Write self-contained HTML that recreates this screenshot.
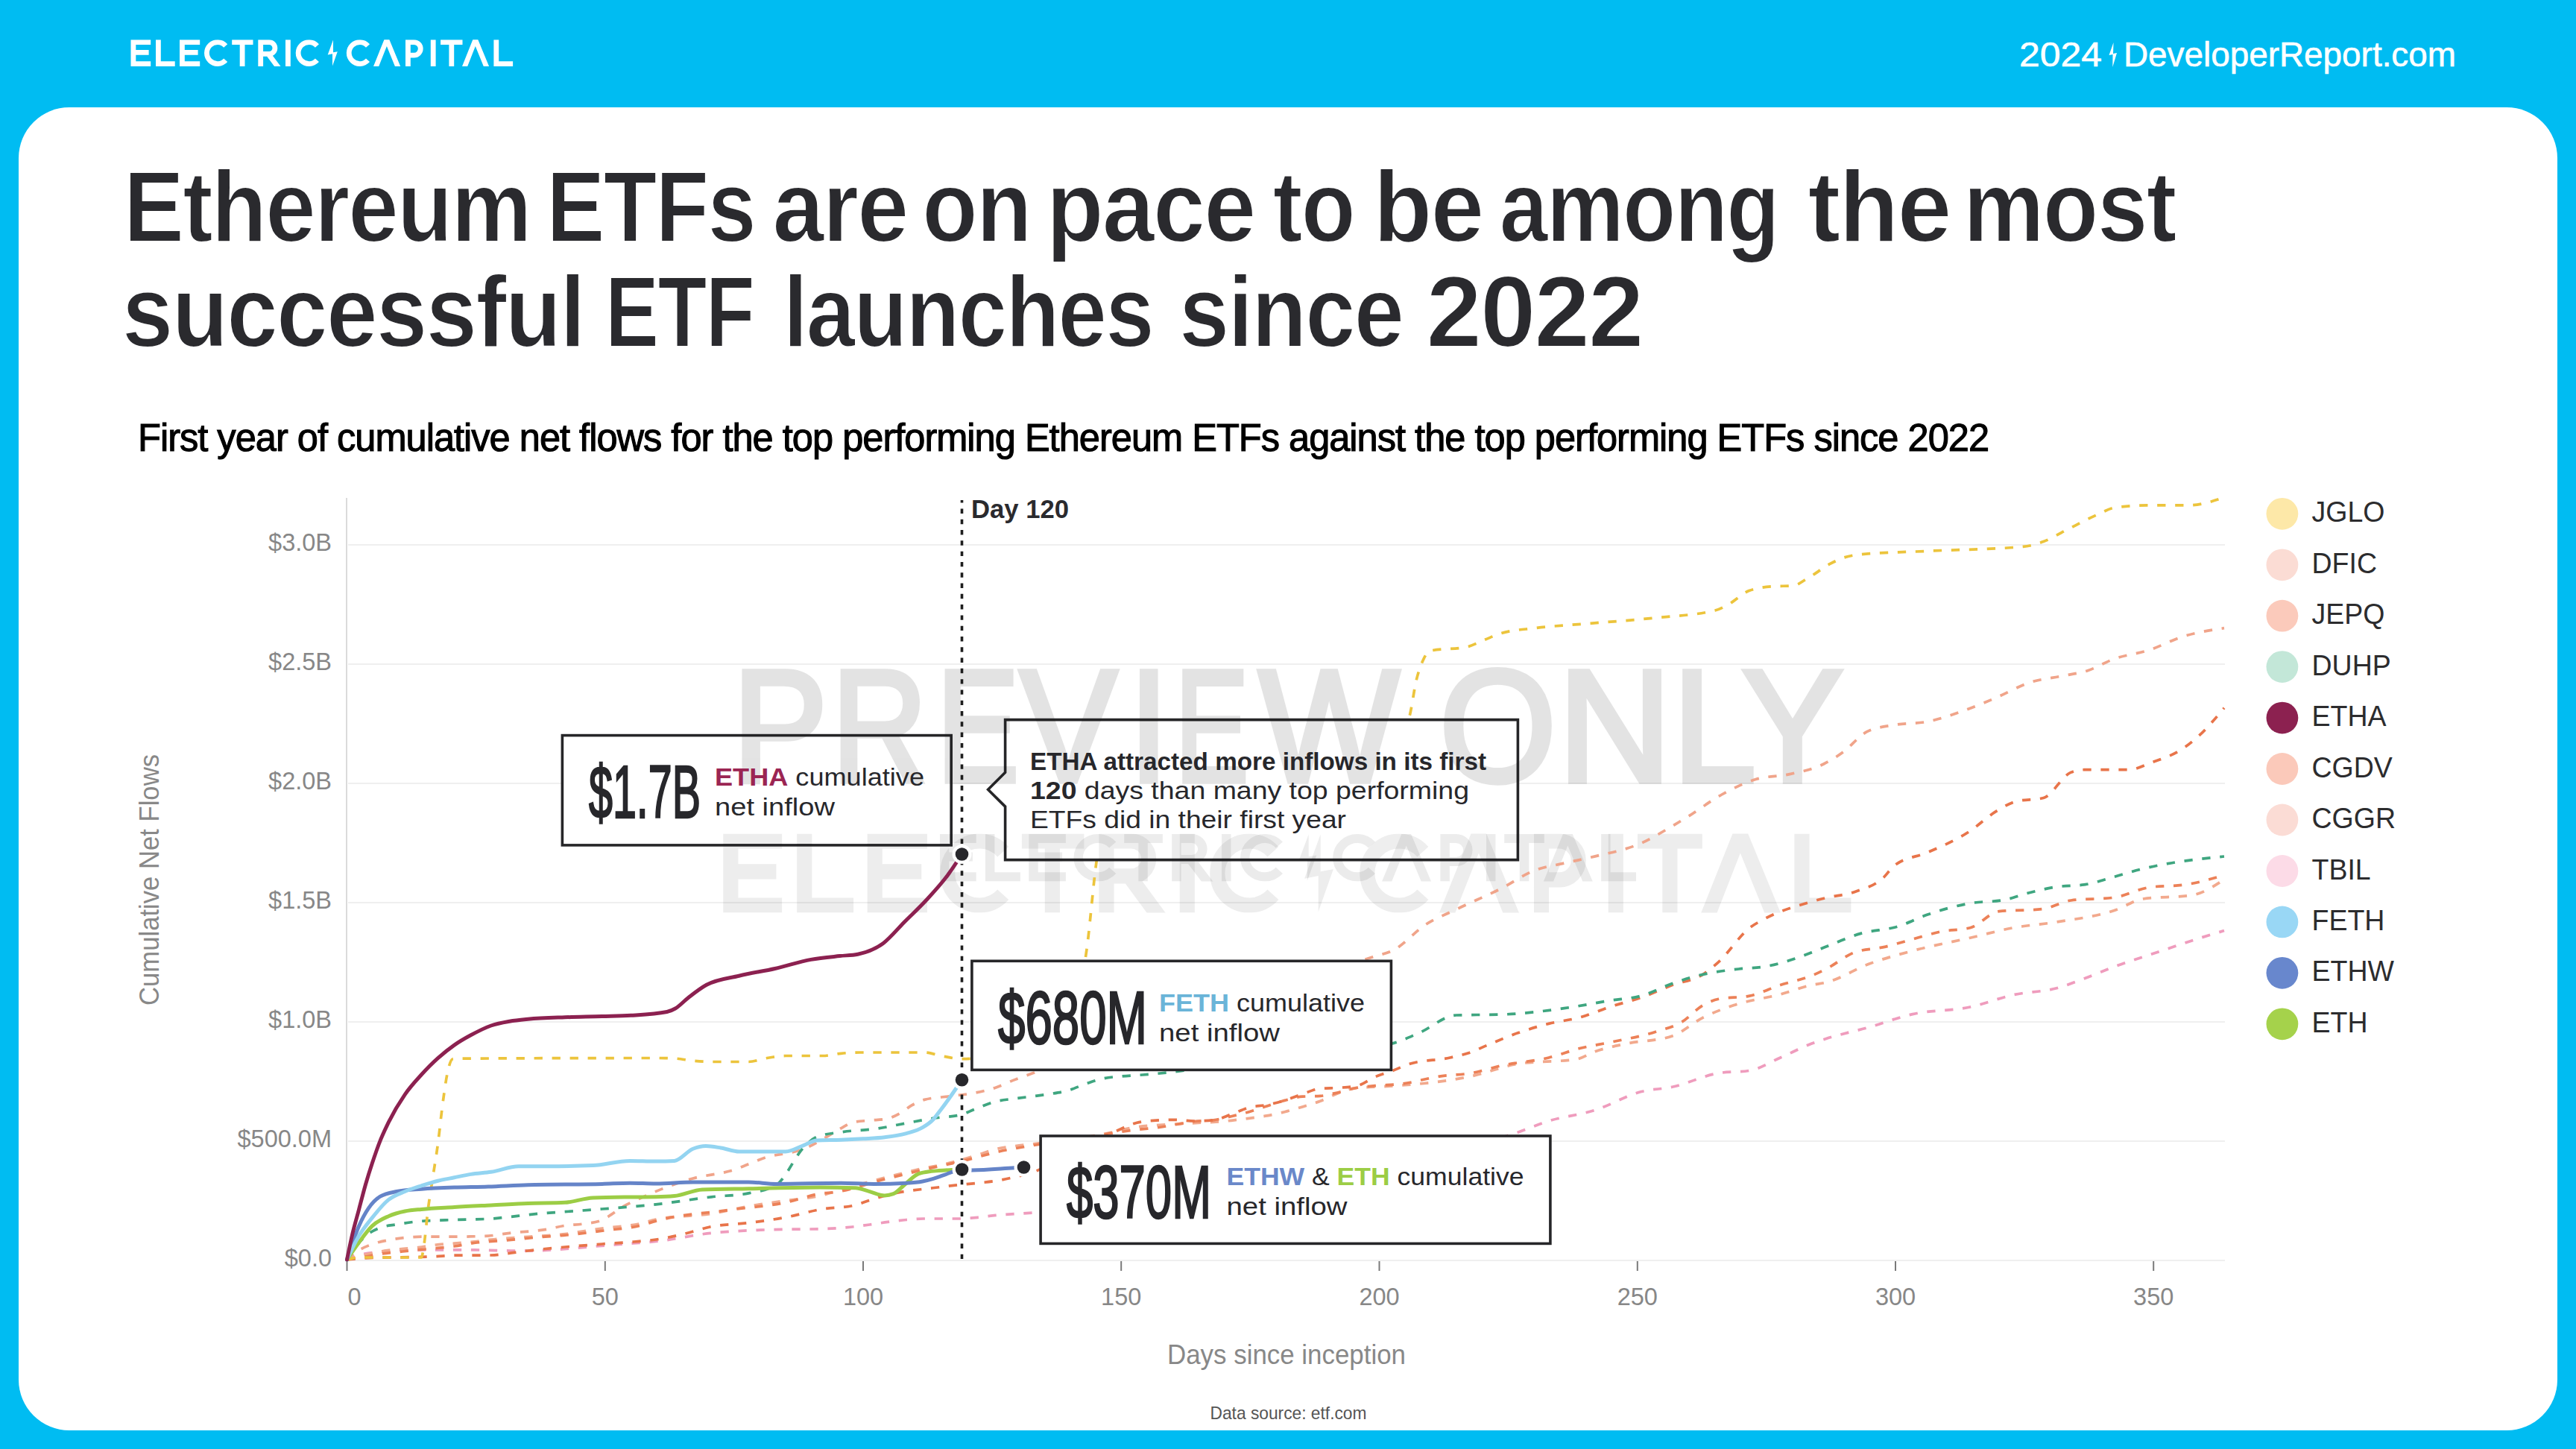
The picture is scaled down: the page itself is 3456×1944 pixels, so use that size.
<!DOCTYPE html><html><head><meta charset="utf-8"><style>
html,body{margin:0;padding:0;background:#00bcf2;}
body{width:3456px;height:1944px;overflow:hidden;position:relative;font-family:"Liberation Sans",sans-serif;}
svg{position:absolute;left:0;top:0;}
text{font-family:"Liberation Sans",sans-serif;}
</style></head><body>
<svg width="3456" height="1944" viewBox="0 0 3456 1944">
<defs><clipPath id="lclip"><rect x="170" y="53.2" width="525" height="35.8"/></clipPath></defs>
<rect x="25" y="144" width="3406" height="1775" rx="68" ry="68" fill="#ffffff"/>
<g fill="#ffffff" stroke="#ffffff"><g fill="none" stroke-width="6.8" stroke-linecap="butt" stroke-linejoin="miter" clip-path="url(#lclip)"><path d="M202.2,56.6 H178.9 V85.6 H202.2 M178.9,70.4 H199.6"/><path d="M212.4,53.2 V85.6 H234.7"/><path d="M268.2,56.6 H244.4 V85.6 H268.2 M244.4,70.4 H265.6"/><path d="M302.7,61.4 A14.5,14.5 0 1 0 302.7,80.8"/><path d="M311.2,56.6 H339.5 M325.1,56.6 V89"/><path d="M349.7,89 V56.6 H361 A7.9,7.9 0 0 1 361,72.4 H349.7 M360,72.4 L374.5,92"/><path d="M386.4,53.2 V89"/><path d="M425.4,61.4 A14.5,14.5 0 1 0 425.4,80.8"/><path d="M493.5,61.4 A14.5,14.5 0 1 0 493.5,80.8"/><path d="M547.4,89 V56.6 H555.5 A8.75,8.75 0 0 1 555.5,74.1 H547.4"/><path d="M581.2,53.2 V89"/><path d="M591.1,56.6 H620.5 M605.8,56.6 V89"/><path d="M665.8,53.2 V85.6 H688.1"/></g><path stroke="none" d="M447,53.5 L439.7,73.5 L446,72.3 L446,88.5 L452.8,69.3 L447,70.3 Z"/><path stroke="none" d="M501,89 L515.4,53.2 L522.4,53.2 L537.2,89 L529.9,89 L518.9,62 L508.2,89 Z"/><path stroke="none" d="M620,89 L634.3,53.2 L641.3,53.2 L656.1,89 L648.8,89 L637.8,62 L627.2,89 Z"/></g>
<text x="2709" y="89.3" font-size="45.5" fill="#ffffff" stroke="#ffffff" stroke-width="0.6" textLength="111" lengthAdjust="spacingAndGlyphs">2024</text>
<path fill="#ffffff" d="M2835.5,57 L2829.5,74 L2834.5,73 L2834.3,90 L2840,71 L2835,72 Z"/>
<text x="2849" y="89.3" font-size="45.5" fill="#ffffff" stroke="#ffffff" stroke-width="0.6" textLength="446" lengthAdjust="spacingAndGlyphs">DeveloperReport.com</text>
<text transform="translate(166,323.5) scale(0.8926,1)" font-size="136" font-weight="bold" fill="#2a2a2e" stroke="#fff" stroke-width="2.0" letter-spacing="-2" style="font-kerning:none">Ethereum</text>
<text transform="translate(733.3,323.5) scale(0.8618,1)" font-size="136" font-weight="bold" fill="#2a2a2e" stroke="#fff" stroke-width="2.0" letter-spacing="-2" style="font-kerning:none">ETFs</text>
<text transform="translate(1036.5,323.5) scale(0.9126,1)" font-size="136" font-weight="bold" fill="#2a2a2e" stroke="#fff" stroke-width="2.0" letter-spacing="-2" style="font-kerning:none">are</text>
<text transform="translate(1237.3,323.5) scale(0.8962,1)" font-size="136" font-weight="bold" fill="#2a2a2e" stroke="#fff" stroke-width="2.0" letter-spacing="-2" style="font-kerning:none">on</text>
<text transform="translate(1403.8,323.5) scale(0.9259,1)" font-size="136" font-weight="bold" fill="#2a2a2e" stroke="#fff" stroke-width="2.0" letter-spacing="-2" style="font-kerning:none">pace</text>
<text transform="translate(1707.7,323.5) scale(0.8774,1)" font-size="136" font-weight="bold" fill="#2a2a2e" stroke="#fff" stroke-width="2.0" letter-spacing="-2" style="font-kerning:none">to</text>
<text transform="translate(1842.5,323.5) scale(0.9497,1)" font-size="136" font-weight="bold" fill="#2a2a2e" stroke="#fff" stroke-width="2.0" letter-spacing="-2" style="font-kerning:none">be</text>
<text transform="translate(2011.7,323.5) scale(0.8588,1)" font-size="136" font-weight="bold" fill="#2a2a2e" stroke="#fff" stroke-width="2.0" letter-spacing="-2" style="font-kerning:none">among</text>
<text transform="translate(2425.4,323.5) scale(0.9651,1)" font-size="136" font-weight="bold" fill="#2a2a2e" stroke="#fff" stroke-width="2.0" letter-spacing="-2" style="font-kerning:none">the</text>
<text transform="translate(2634.1,323.5) scale(0.8978,1)" font-size="136" font-weight="bold" fill="#2a2a2e" stroke="#fff" stroke-width="2.0" letter-spacing="-2" style="font-kerning:none">most</text>
<text transform="translate(163.8,465) scale(0.9078,1)" font-size="136" font-weight="bold" fill="#2a2a2e" stroke="#fff" stroke-width="2.0" letter-spacing="-2" style="font-kerning:none">successful</text>
<text transform="translate(812,465) scale(0.7940,1)" font-size="136" font-weight="bold" fill="#2a2a2e" stroke="#fff" stroke-width="2.0" letter-spacing="-2" style="font-kerning:none">ETF</text>
<text transform="translate(1050.9,465) scale(0.8648,1)" font-size="136" font-weight="bold" fill="#2a2a2e" stroke="#fff" stroke-width="2.0" letter-spacing="-2" style="font-kerning:none">launches</text>
<text transform="translate(1581.9,465) scale(0.8893,1)" font-size="136" font-weight="bold" fill="#2a2a2e" stroke="#fff" stroke-width="2.0" letter-spacing="-2" style="font-kerning:none">since</text>
<text transform="translate(1913.4,465) scale(0.9846,1)" font-size="136" font-weight="bold" fill="#2a2a2e" stroke="#fff" stroke-width="2.0" letter-spacing="-2" style="font-kerning:none">2022</text>
<text x="185" y="605" font-size="51" fill="#000" stroke="#000" stroke-width="1.1" letter-spacing="-1" textLength="2483" lengthAdjust="spacingAndGlyphs">First year of cumulative net flows for the top performing Ethereum ETFs against the top performing ETFs since 2022</text>
<g stroke="#efefef" stroke-width="1.8"><line x1="467" y1="1691" x2="2985" y2="1691"/><line x1="467" y1="1531" x2="2985" y2="1531"/><line x1="467" y1="1371" x2="2985" y2="1371"/><line x1="467" y1="1211" x2="2985" y2="1211"/><line x1="467" y1="1051" x2="2985" y2="1051"/><line x1="467" y1="891" x2="2985" y2="891"/><line x1="467" y1="731" x2="2985" y2="731"/></g>
<line x1="465" y1="668" x2="465" y2="1692" stroke="#d2d2d2" stroke-width="1.6"/>
<g stroke="#7a7a7a" stroke-width="2"><line x1="465.5" y1="1692" x2="465.5" y2="1705"/><line x1="811.8" y1="1692" x2="811.8" y2="1705"/><line x1="1158" y1="1692" x2="1158" y2="1705"/><line x1="1504.2" y1="1692" x2="1504.2" y2="1705"/><line x1="1850.5" y1="1692" x2="1850.5" y2="1705"/><line x1="2196.8" y1="1692" x2="2196.8" y2="1705"/><line x1="2543" y1="1692" x2="2543" y2="1705"/><line x1="2889.2" y1="1692" x2="2889.2" y2="1705"/></g>
<g font-size="32.5" fill="#878787"><text x="445" y="1698.5" text-anchor="end">$0.0</text><text x="445" y="1538.5" text-anchor="end">$500.0M</text><text x="445" y="1378.5" text-anchor="end">$1.0B</text><text x="445" y="1218.5" text-anchor="end">$1.5B</text><text x="445" y="1058.5" text-anchor="end">$2.0B</text><text x="445" y="898.5" text-anchor="end">$2.5B</text><text x="445" y="738.5" text-anchor="end">$3.0B</text></g>
<g font-size="32.5" fill="#878787"><text x="475.5" y="1751" text-anchor="middle">0</text><text x="811.8" y="1751" text-anchor="middle">50</text><text x="1158" y="1751" text-anchor="middle">100</text><text x="1504.2" y="1751" text-anchor="middle">150</text><text x="1850.5" y="1751" text-anchor="middle">200</text><text x="2196.8" y="1751" text-anchor="middle">250</text><text x="2543" y="1751" text-anchor="middle">300</text><text x="2889.2" y="1751" text-anchor="middle">350</text></g>
<text x="1566" y="1830" font-size="36" fill="#888888" textLength="320" lengthAdjust="spacingAndGlyphs">Days since inception</text>
<text transform="translate(213,1349) rotate(-90)" font-size="36" fill="#888888" textLength="337" lengthAdjust="spacingAndGlyphs">Cumulative Net Flows</text>
<text x="1623.5" y="1904" font-size="24" fill="#555555" textLength="210" lengthAdjust="spacingAndGlyphs">Data source: etf.com</text>
<g><g opacity="0.105"><g fill="#000" stroke="#000" stroke-width="7.5" stroke-linejoin="miter"><text transform="translate(983.2,1047.8) scale(0.8921,1)" font-size="212.9">P</text><text transform="translate(1116.2,1047.8) scale(0.8305,1)" font-size="212.9">R</text><text transform="translate(1256.9,1047.8) scale(0.7755,1)" font-size="212.9">E</text><text transform="translate(1368.6,1047.8) scale(0.9154,1)" font-size="212.9">V</text><text transform="translate(1514.8,1047.8) scale(0.8963,1)" font-size="212.9">I</text><text transform="translate(1576.7,1047.8) scale(0.6923,1)" font-size="212.9">E</text><text transform="translate(1688.9,1047.8) scale(0.9357,1)" font-size="212.9">W</text><text transform="translate(1931.2,1047.8) scale(0.9460,1)" font-size="212.9">O</text><text transform="translate(2090.5,1047.8) scale(0.9878,1)" font-size="212.9">N</text><text transform="translate(2244.3,1047.8) scale(0.9426,1)" font-size="212.9">L</text><text transform="translate(2337.3,1047.8) scale(0.9535,1)" font-size="212.9">Y</text></g></g><g opacity="0.065"><g transform="translate(452.3,960.6) scale(2.9516,2.9665)" fill="#000" stroke="#000"><g fill="none" stroke-width="6.8" stroke-linecap="butt" stroke-linejoin="miter" clip-path="url(#lclip)"><path d="M202.2,56.6 H178.9 V85.6 H202.2 M178.9,70.4 H199.6"/><path d="M212.4,53.2 V85.6 H234.7"/><path d="M268.2,56.6 H244.4 V85.6 H268.2 M244.4,70.4 H265.6"/><path d="M302.7,61.4 A14.5,14.5 0 1 0 302.7,80.8"/><path d="M311.2,56.6 H339.5 M325.1,56.6 V89"/><path d="M349.7,89 V56.6 H361 A7.9,7.9 0 0 1 361,72.4 H349.7 M360,72.4 L374.5,92"/><path d="M386.4,53.2 V89"/><path d="M425.4,61.4 A14.5,14.5 0 1 0 425.4,80.8"/><path d="M493.5,61.4 A14.5,14.5 0 1 0 493.5,80.8"/><path d="M547.4,89 V56.6 H555.5 A8.75,8.75 0 0 1 555.5,74.1 H547.4"/><path d="M581.2,53.2 V89"/><path d="M591.1,56.6 H620.5 M605.8,56.6 V89"/><path d="M665.8,53.2 V85.6 H688.1"/></g><path stroke="none" d="M447,53.5 L439.7,73.5 L446,72.3 L446,88.5 L452.8,69.3 L447,70.3 Z"/><path stroke="none" d="M501,89 L515.4,53.2 L522.4,53.2 L537.2,89 L529.9,89 L518.9,62 L508.2,89 Z"/><path stroke="none" d="M620,89 L634.3,53.2 L641.3,53.2 L656.1,89 L648.8,89 L637.8,62 L627.2,89 Z"/></g></g><g opacity="0.075"><g transform="translate(941.2,1024.8) scale(1.8221,1.7709)" fill="#000" stroke="#000"><g fill="none" stroke-width="6.8" stroke-linecap="butt" stroke-linejoin="miter" clip-path="url(#lclip)"><path d="M202.2,56.6 H178.9 V85.6 H202.2 M178.9,70.4 H199.6"/><path d="M212.4,53.2 V85.6 H234.7"/><path d="M268.2,56.6 H244.4 V85.6 H268.2 M244.4,70.4 H265.6"/><path d="M302.7,61.4 A14.5,14.5 0 1 0 302.7,80.8"/><path d="M311.2,56.6 H339.5 M325.1,56.6 V89"/><path d="M349.7,89 V56.6 H361 A7.9,7.9 0 0 1 361,72.4 H349.7 M360,72.4 L374.5,92"/><path d="M386.4,53.2 V89"/><path d="M425.4,61.4 A14.5,14.5 0 1 0 425.4,80.8"/><path d="M493.5,61.4 A14.5,14.5 0 1 0 493.5,80.8"/><path d="M547.4,89 V56.6 H555.5 A8.75,8.75 0 0 1 555.5,74.1 H547.4"/><path d="M581.2,53.2 V89"/><path d="M591.1,56.6 H620.5 M605.8,56.6 V89"/><path d="M665.8,53.2 V85.6 H688.1"/></g><path stroke="none" d="M447,53.5 L439.7,73.5 L446,72.3 L446,88.5 L452.8,69.3 L447,70.3 Z"/><path stroke="none" d="M501,89 L515.4,53.2 L522.4,53.2 L537.2,89 L529.9,89 L518.9,62 L508.2,89 Z"/><path stroke="none" d="M620,89 L634.3,53.2 L641.3,53.2 L656.1,89 L648.8,89 L637.8,62 L627.2,89 Z"/></g></g></g>
<path d="M465.5,1690 C473,1687.1 480.6,1684.2 488.1,1682.4 C496.2,1680.5 504.3,1680 512.4,1679.1 C520.5,1678.2 528.6,1676.9 536.7,1676.9 C552.1,1676.9 567.6,1676.9 583,1676.9 C600.7,1676.9 618.3,1676.9 636,1676.9 C645.3,1676.9 654.7,1677.4 664,1677.6 C678.3,1677.9 692.7,1678.2 707,1678.2 C715.1,1678.2 723.2,1677.8 731.3,1677.4 C739.1,1677 746.8,1676.5 754.6,1675.9 C769.7,1674.8 784.9,1673.3 800,1672 C816.7,1670.6 833.3,1669.4 850,1668 C860,1667.2 870,1666.5 880,1665.5 C904.8,1663 929.7,1656.8 954.5,1654.3 C987.7,1651 1020.8,1650 1054,1649.3 C1069.3,1649 1084.7,1649.1 1100,1648.8 C1114.5,1648.5 1129,1647.5 1143.5,1646 C1151.2,1645.2 1159,1644.1 1166.7,1643 C1174.9,1641.9 1183.1,1640.5 1191.3,1639.4 C1199.5,1638.3 1207.8,1637.2 1216,1636.5 C1223.7,1635.8 1231.4,1635 1239.1,1635 C1255.5,1635 1272,1635 1288.4,1635 C1296.1,1635 1303.9,1634 1311.6,1633.3 C1319.8,1632.5 1328,1631.2 1336.2,1630.4 C1344.4,1629.6 1352.7,1629.2 1360.9,1628.6 C1369.1,1628.1 1377.3,1627.7 1385.5,1627.1 C1490.3,1619.9 1595.2,1592.3 1700,1575 C1810.8,1556.7 1921.5,1556.8 2032.3,1520.5 C2047.5,1515.5 2062.6,1508.6 2077.8,1503.9 C2098.5,1497.5 2119.3,1496 2140,1489.4 C2160.7,1482.8 2181.4,1469.7 2202.1,1464.5 C2215.9,1461 2229.7,1461.2 2243.5,1458.3 C2264.2,1454 2285,1443 2305.7,1439.7 C2319.5,1437.5 2333.3,1438.6 2347.1,1436.4 C2360.9,1434.2 2374.7,1425 2388.5,1419 C2402.3,1413 2416.2,1405.5 2430,1400.3 C2436.7,1397.8 2443.3,1395.6 2450,1393.5 C2469.3,1387.3 2488.7,1383.5 2508,1378 C2527.3,1372.5 2546.6,1364.9 2565.9,1360.6 C2591.7,1354.8 2617.4,1356.5 2643.2,1351 C2662.5,1346.9 2681.9,1338.9 2701.2,1334.7 C2720.5,1330.5 2739.9,1331 2759.2,1325.8 C2772.1,1322.3 2784.9,1317.1 2797.8,1312.3 C2810.7,1307.5 2823.6,1301.7 2836.5,1296.9 C2855.8,1289.7 2875.1,1283.9 2894.4,1277.5 C2913.7,1271 2933.1,1264.3 2952.4,1258.2 C2962.9,1254.9 2973.5,1251.7 2984,1248.6" fill="none" stroke="#ef9cbd" stroke-width="3.7" stroke-dasharray="11.3 12.7"/>
<path d="M465.5,1690 C473,1687.9 480.5,1685.8 488,1684 C495.4,1682.2 502.8,1680.4 510.2,1679.1 C519,1677.5 527.9,1676.7 536.7,1675.8 C544.8,1674.9 552.9,1674.6 561,1673.6 C568.3,1672.7 575.7,1671.2 583,1670.3 C591.8,1669.2 600.7,1668.8 609.5,1668.1 C618.3,1667.4 627.2,1666.8 636,1665.9 C643.6,1665.1 651.2,1663.8 658.8,1663 C675.3,1661.2 691.9,1660.5 708.4,1659.3 C724.9,1658 741.5,1657.4 758,1655.5 C774.6,1653.6 791.2,1650.3 807.8,1648 C824.4,1645.7 840.9,1645.5 857.5,1641.9 C865,1640.3 872.5,1637.6 880,1636 C904.8,1630.8 929.7,1632.2 954.5,1628.2 C971.1,1625.5 987.6,1621.2 1004.2,1618.3 C1020.8,1615.4 1037.4,1613.3 1054,1610.8 C1070.5,1608.3 1087.1,1607.7 1103.6,1603.4 C1107.2,1602.5 1110.9,1601.3 1114.5,1600.3 C1138.7,1593.4 1162.8,1586.2 1187,1580 C1195.7,1577.8 1204.3,1575.6 1213,1573.5 C1221.2,1571.5 1229.5,1569.5 1237.7,1567.7 C1246.4,1565.8 1255.1,1564.6 1263.8,1562.6 C1271.5,1560.9 1279.3,1558.9 1287,1556.8 C1295.2,1554.6 1303.4,1552.1 1311.6,1549.6 C1319.8,1547.1 1328,1543.6 1336.2,1541.6 C1344.4,1539.6 1352.7,1538.8 1360.9,1537.7 C1369.1,1536.6 1377.3,1535.8 1385.5,1534.8 C1403.7,1532.6 1421.8,1530.7 1440,1528 C1454.3,1525.9 1468.7,1523.7 1483,1521 C1497,1518.4 1511,1514 1525,1512 C1543.3,1509.3 1561.7,1509.3 1580,1508 C1603.9,1506.3 1627.9,1505.9 1651.8,1503.3 C1659.8,1502.4 1667.7,1501.4 1675.7,1500.3 C1683.7,1499.2 1691.6,1498.3 1699.6,1496.9 C1707.6,1495.5 1715.5,1493.7 1723.5,1491.7 C1731.5,1489.7 1739.4,1487.3 1747.4,1484.9 C1755.4,1482.5 1763.3,1480.2 1771.3,1477.2 C1779.9,1474 1788.4,1469.1 1797,1466.1 C1805,1463.3 1812.9,1460 1820.9,1459.3 C1830.6,1458.4 1840.3,1458.6 1850,1458 C1891.4,1455.6 1932.9,1452.7 1974.3,1443.8 C1995,1439.3 2015.7,1430.6 2036.4,1427.3 C2062.6,1423.1 2088.9,1425.2 2115.1,1421 C2123.4,1419.7 2131.7,1413.6 2140,1410.7 C2153.8,1405.8 2167.6,1403.3 2181.4,1400.3 C2202.1,1395.8 2222.8,1396.9 2243.5,1390 C2257.3,1385.4 2271.2,1372 2285,1365.1 C2298.8,1358.2 2312.6,1353.1 2326.4,1348.5 C2347.1,1341.6 2367.8,1339.6 2388.5,1334 C2402.3,1330.2 2416.2,1324.6 2430,1321.6 C2436.7,1320.2 2443.3,1319.7 2450,1318.1 C2469.3,1313.4 2488.7,1300.1 2508,1293 C2527.3,1285.9 2546.6,1280.8 2565.9,1275.6 C2591.7,1268.7 2617.4,1264.1 2643.2,1258.2 C2662.5,1253.8 2681.9,1248.2 2701.2,1244.7 C2720.5,1241.2 2739.9,1240.1 2759.2,1237 C2785,1232.8 2810.7,1230.1 2836.5,1221.5 C2849.4,1217.2 2862.2,1208 2875.1,1206 C2897,1202.7 2918.9,1204.3 2940.8,1201 C2955.2,1198.8 2969.6,1189.4 2984,1180" fill="none" stroke="#f2a98d" stroke-width="3.7" stroke-dasharray="11.3 12.7"/>
<path d="M465.5,1690 C473.7,1688.7 481.8,1687.4 490,1686 C497.3,1684.7 504.7,1683.1 512,1682 C521.3,1680.6 530.7,1680 540,1679 C550,1678 560,1677 570,1676 C583.2,1674.7 596.3,1673.8 609.5,1672 C619.7,1670.6 629.8,1668.3 640,1667 C653.3,1665.3 666.7,1665.2 680,1664 C693.3,1662.8 706.7,1661.2 720,1660 C733.3,1658.8 746.7,1658.3 760,1657 C776.7,1655.4 793.3,1653.2 810,1651 C826.7,1648.8 843.3,1648.2 860,1644 C866.7,1642.3 873.3,1639.9 880,1638.1 C913.1,1629.1 946.3,1627.8 979.4,1623.2 C1004.3,1619.7 1029.1,1618.4 1054,1613.3 C1070.5,1609.9 1087.1,1603 1103.6,1600.9 C1108.7,1600.3 1113.7,1600.2 1118.8,1599.6 C1141.5,1596.9 1164.3,1587.7 1187,1582 C1204.7,1577.6 1222.3,1573.1 1240,1569 C1256.7,1565.1 1273.3,1562 1290,1558 C1306.7,1554 1323.3,1548.7 1340,1545 C1356.7,1541.3 1373.3,1538.8 1390,1536 C1410,1532.7 1430,1530.1 1450,1527 C1466.7,1524.4 1483.3,1521.4 1500,1519 C1508.5,1517.8 1516.9,1516.6 1525.4,1515.6 C1533.9,1514.6 1542.5,1514.1 1551,1513 C1559.5,1511.9 1568.1,1510.2 1576.6,1508.8 C1585.2,1507.4 1593.7,1505.5 1602.3,1504.5 C1610.8,1503.5 1619.4,1503.9 1627.9,1502.8 C1635.9,1501.7 1643.8,1499.5 1651.8,1497.7 C1659.8,1495.9 1667.7,1494 1675.7,1491.7 C1683.7,1489.4 1691.6,1486.5 1699.6,1484 C1707.6,1481.5 1715.5,1478.5 1723.5,1476.4 C1731.5,1474.3 1739.4,1471.7 1747.4,1471.2 C1755.4,1470.7 1763.3,1470.9 1771.3,1470.4 C1779.9,1469.8 1788.4,1467.2 1797,1465.3 C1805,1463.5 1812.9,1460.7 1820.9,1459.3 C1828.9,1457.9 1836.8,1457.4 1844.8,1456.7 C1856.5,1455.6 1868.3,1455.6 1880,1454.2 C1897.6,1452.1 1915.2,1446.3 1932.8,1443.8 C1946.6,1441.8 1960.5,1442.1 1974.3,1439.7 C1988.1,1437.3 2001.9,1432.3 2015.7,1429.3 C2036.4,1424.8 2057.1,1424.1 2077.8,1419 C2091.6,1415.6 2105.5,1410 2119.3,1406.5 C2133.1,1403.1 2146.9,1401.2 2160.7,1398.3 C2181.4,1393.9 2202.1,1390.6 2222.8,1383.8 C2233.9,1380.2 2244.9,1377.9 2256,1371.3 C2265.7,1365.5 2275.3,1353.9 2285,1348.5 C2291.9,1344.6 2298.8,1341.7 2305.7,1340.3 C2319.5,1337.5 2333.3,1338.9 2347.1,1336.1 C2360.9,1333.3 2374.7,1326.1 2388.5,1321.6 C2402.3,1317.1 2416.2,1314.8 2430,1309.2 C2436.7,1306.5 2443.3,1303.3 2450,1300 C2462.9,1293.5 2475.7,1282.1 2488.6,1277.5 C2501.5,1272.9 2514.4,1273.5 2527.3,1270.6 C2540.2,1267.7 2553,1263.6 2565.9,1260.1 C2578.8,1256.6 2591.7,1252.3 2604.6,1249.7 C2617.5,1247.1 2630.3,1248 2643.2,1244.7 C2656.1,1241.4 2669,1224.1 2681.9,1222.7 C2701.2,1220.6 2720.6,1221.7 2739.9,1219.6 C2752.8,1218.2 2765.6,1209.7 2778.5,1208 C2797.8,1205.4 2817.2,1206.7 2836.5,1204.1 C2851.9,1202 2867.4,1193 2882.8,1190.6 C2899.6,1188 2916.3,1189.3 2933.1,1186.7 C2950.1,1184.1 2967,1179 2984,1174" fill="none" stroke="#ec8158" stroke-width="3.7" stroke-dasharray="11.3 12.7"/>
<path d="M465.5,1690 C473,1689.2 480.5,1688.4 488,1688 C519.7,1686.5 551.3,1687.2 583,1685.7 C591.8,1685.3 600.7,1684.3 609.5,1684.2 C625.9,1684.1 642.4,1684.1 658.8,1684 C666.3,1683.9 673.8,1682.6 681.3,1681.7 C690.3,1680.6 699.4,1679.1 708.4,1678 C724.9,1676 741.5,1674.5 758,1673 C774.6,1671.5 791.2,1670.3 807.8,1669 C821.9,1667.9 835.9,1667.2 850,1666 C860,1665.1 870,1664.5 880,1663 C892.4,1661.2 904.9,1658.4 917.3,1655.5 C929.7,1652.6 942.1,1648 954.5,1645.6 C971.1,1642.4 987.6,1642.7 1004.2,1640.6 C1020.8,1638.5 1037.4,1636.3 1054,1633.2 C1070.5,1630.1 1087.1,1624.7 1103.6,1622 C1116.9,1619.9 1130.2,1620.6 1143.5,1617.7 C1151.2,1616 1159,1612.8 1166.7,1610.4 C1174.4,1608 1182.2,1605.2 1189.9,1603.2 C1198.6,1601 1207.3,1599.5 1216,1598.1 C1223.7,1596.9 1231.4,1596.1 1239.1,1595.2 C1247.3,1594.2 1255.6,1593.3 1263.8,1592.3 C1272,1591.3 1280.2,1590.3 1288.4,1589.4 C1296.1,1588.6 1303.9,1588 1311.6,1587.2 C1319.8,1586.3 1328,1585.6 1336.2,1584.3 C1344.4,1583 1352.7,1581.2 1360.9,1579.3 C1369.1,1577.4 1377.3,1575.6 1385.5,1572.8 C1403.7,1566.6 1421.8,1554 1440,1545 C1456.7,1536.8 1473.3,1528.4 1490,1521 C1501.8,1515.8 1513.6,1509.2 1525.4,1506.3 C1533.9,1504.2 1542.5,1503.8 1551,1503.2 C1559.5,1502.6 1568.1,1502.3 1576.6,1502.3 C1585.2,1502.3 1593.7,1504 1602.3,1504 C1610.8,1504 1619.4,1503.6 1627.9,1502.8 C1635.9,1502.1 1643.8,1497.9 1651.8,1495.1 C1659.8,1492.3 1667.7,1487.9 1675.7,1485.8 C1683.7,1483.7 1691.6,1483.9 1699.6,1482.3 C1707.6,1480.7 1715.5,1478.8 1723.5,1476.4 C1731.5,1474 1739.4,1470.5 1747.4,1467.8 C1755.4,1465.1 1763.3,1461.2 1771.3,1460.5 C1779.9,1459.7 1788.4,1460 1797,1459.3 C1805,1458.7 1812.9,1458.4 1820.9,1456.7 C1828.9,1455 1836.8,1448.2 1844.8,1444.8 C1852.2,1441.7 1859.6,1439.8 1867,1437 C1875.1,1434 1883.3,1429.8 1891.4,1427.3 C1909.4,1421.8 1927.3,1422.9 1945.3,1419 C1953.6,1417.2 1961.8,1415.6 1970.1,1412.8 C1978.4,1410 1986.7,1405.8 1995,1402.4 C2008.8,1396.7 2022.6,1390.6 2036.4,1385.8 C2050.2,1381 2064,1376.8 2077.8,1373.4 C2091.6,1369.9 2105.5,1368.9 2119.3,1365.1 C2133.1,1361.3 2146.9,1355.1 2160.7,1350.6 C2174.5,1346.1 2188.3,1343 2202.1,1338.2 C2215.9,1333.4 2229.7,1326.8 2243.5,1321.6 C2257.3,1316.4 2271.2,1316.1 2285,1307.1 C2291.9,1302.6 2298.8,1296.8 2305.7,1290.6 C2319.5,1278.2 2333.3,1255.6 2347.1,1245 C2354,1239.7 2360.9,1236.3 2367.8,1232.6 C2388.5,1221.4 2409.3,1215.8 2430,1209.8 C2436.7,1207.9 2443.3,1206.1 2450,1204.5 C2462.9,1201.3 2475.7,1201 2488.6,1196.4 C2501.5,1191.8 2514.4,1189.3 2527.3,1177 C2531.9,1172.6 2536.5,1165.3 2541.1,1161.6 C2556.3,1149.5 2571.5,1150.2 2586.7,1143.4 C2604.9,1135.3 2623.1,1127.9 2641.3,1116.1 C2653.5,1108.2 2665.6,1096.1 2677.8,1088.7 C2686.9,1083.2 2696,1077.4 2705.1,1075.1 C2717.3,1072 2729.4,1073.6 2741.6,1070.5 C2753.7,1067.4 2765.9,1041.3 2778,1036.4 C2784.1,1033.9 2790.1,1032.7 2796.2,1032.7 C2816,1032.7 2835.7,1032.7 2855.5,1032.7 C2866.1,1032.7 2876.8,1026.6 2887.4,1022.7 C2901.1,1017.6 2914.7,1013.8 2928.4,1004.5 C2936,999.4 2943.5,993.2 2951.1,986.2 C2962.1,976 2973,962.9 2984,949.8" fill="none" stroke="#e8744a" stroke-width="3.7" stroke-dasharray="11.3 12.7"/>
<path d="M465.5,1690 C469.4,1686.5 473.2,1683 477.1,1680.2 C484.5,1674.9 491.8,1672 499.2,1669.2 C506.5,1666.5 513.9,1665.2 521.2,1663.7 C528.6,1662.2 535.9,1661.2 543.3,1660.4 C550.7,1659.7 558,1659.2 565.4,1659.2 C580.1,1659.2 594.8,1659.2 609.5,1659.2 C624.7,1659.2 639.8,1658.8 655,1658.1 C664.5,1657.6 674.1,1655.5 683.6,1654.3 C700.2,1652.3 716.7,1652.1 733.3,1649.3 C741.5,1647.9 749.8,1645.5 758,1644.3 C766.3,1643.1 774.7,1643.1 783,1641.9 C791.3,1640.7 799.5,1640.2 807.8,1636.9 C811.9,1635.2 816.1,1632.1 820.2,1629.4 C824.4,1626.7 828.5,1623.3 832.7,1620.7 C841,1615.5 849.2,1612.2 857.5,1608.3 C865,1604.8 872.5,1601.5 880,1598.4 C896.6,1591.6 913.1,1585.6 929.7,1581 C946.3,1576.4 962.8,1575.8 979.4,1571 C995.9,1566.2 1012.5,1557.4 1029,1552.4 C1045.6,1547.4 1062.2,1548 1078.8,1541.2 C1090.7,1536.4 1102.6,1528.9 1114.5,1522 C1119.3,1519.2 1124.2,1516 1129,1513.3 C1133.8,1510.6 1138.7,1507.2 1143.5,1506 C1151.2,1504.1 1159,1504 1166.7,1503.2 C1174.4,1502.4 1182.2,1502.5 1189.9,1501 C1195.7,1499.9 1201.4,1497 1207.2,1493.8 C1212.5,1490.8 1217.9,1485.9 1223.2,1482.9 C1228.9,1479.7 1234.5,1476.9 1240.2,1475.4 C1252.6,1472.1 1265.1,1472.1 1277.5,1470.4 C1287.3,1469.1 1297.2,1468.3 1307,1466.4 C1316.3,1464.6 1325.7,1462.5 1335,1459.4 C1343.5,1456.6 1352.1,1452.2 1360.6,1448.9 C1369.1,1445.6 1377.7,1442.7 1386.2,1439.6 C1457.5,1413.6 1528.7,1384.6 1600,1360 C1679.7,1332.5 1759.3,1311.4 1839,1284.7 C1849.6,1281.2 1860.1,1279.7 1870.7,1274 C1884.5,1266.6 1898.3,1249.8 1912.1,1240.8 C1925.9,1231.8 1939.8,1226.8 1953.6,1220.1 C1974.3,1210 1995,1201.8 2015.7,1191.1 C2029.5,1184 2043.3,1173.9 2057.1,1168.4 C2070.9,1162.9 2084.8,1161.3 2098.6,1158 C2112.4,1154.8 2126.2,1152.3 2140,1148.9 C2160.7,1143.8 2181.4,1140.3 2202.1,1131.1 C2215.9,1125 2229.7,1116.4 2243.5,1108.3 C2250.5,1104.2 2257.5,1099.9 2264.5,1095.6 C2279.7,1086.2 2294.8,1074.3 2310,1066 C2325.2,1057.6 2340.4,1050.1 2355.6,1045.5 C2370.8,1040.9 2385.9,1042 2401.1,1038.6 C2416.3,1035.2 2431.5,1032.6 2446.7,1025 C2455.4,1020.7 2464.1,1015.3 2472.8,1009 C2483.4,1001.3 2494.1,987 2504.7,981.7 C2516.8,975.6 2529,974.8 2541.1,972.6 C2556.3,969.8 2571.5,971.1 2586.7,968 C2601.9,965 2617,959.6 2632.2,954.3 C2647.4,949 2662.6,942.6 2677.8,936.1 C2693,929.7 2708.1,920.5 2723.3,915.6 C2738.5,910.7 2753.7,909.7 2768.9,906.5 C2779.5,904.3 2790.2,903.1 2800.8,899.7 C2812.9,895.8 2825.1,888 2837.2,883.7 C2852.4,878.3 2867.6,877.2 2882.8,872.3 C2898,867.4 2913.2,858.8 2928.4,854.1 C2946.9,848.3 2965.5,845.5 2984,842.7" fill="none" stroke="#f0a48a" stroke-width="3.7" stroke-dasharray="11.3 12.7"/>
<path d="M465.5,1690 C473,1678.8 480.6,1667.6 488.1,1660.4 C495.5,1653.4 502.8,1650 510.2,1647.1 C517.6,1644.2 524.9,1644 532.3,1642.7 C543.3,1640.8 554.4,1639.2 565.4,1638.3 C580.1,1637.1 594.8,1637 609.5,1636.5 C625.7,1635.9 641.8,1636 658,1635.1 C665.8,1634.7 673.5,1633.6 681.3,1632.8 C689.9,1631.9 698.4,1630.8 707,1629.9 C715.1,1629 723.2,1628.2 731.3,1627.5 C740.2,1626.8 749.1,1626.3 758,1625.7 C774.6,1624.5 791.2,1623.3 807.8,1622 C831.9,1620.1 855.9,1618.4 880,1615.8 C904.8,1613.1 929.7,1608.6 954.5,1605.8 C971.1,1603.9 987.6,1604.2 1004.2,1600.9 C1016.6,1598.4 1029.1,1597.2 1041.5,1589.7 C1053.9,1582.2 1066.4,1550.9 1078.8,1538.8 C1084.5,1533.2 1090.3,1527.3 1096,1525.1 C1106.8,1521 1117.6,1520.6 1128.4,1518.9 C1144.9,1516.3 1161.5,1516.5 1178,1514 C1190.7,1512.1 1203.3,1509.1 1216,1506.8 C1228.2,1504.5 1240.4,1502.1 1252.6,1500.2 C1265.1,1498.3 1277.5,1498.6 1290,1495.3 C1295.7,1493.8 1301.3,1490.7 1307,1488.5 C1316.3,1484.9 1325.7,1480.4 1335,1478 C1343.5,1475.8 1352.1,1475.2 1360.6,1474 C1368.4,1472.9 1376.2,1472 1384,1471 C1392.5,1469.9 1401,1469 1409.5,1467.6 C1417.3,1466.3 1425,1465.2 1432.8,1463 C1441.2,1460.6 1449.6,1456.4 1458,1453.6 C1465.9,1451 1473.8,1448.2 1481.7,1446.6 C1489.5,1445 1497.2,1444.7 1505,1444 C1514.3,1443.1 1523.7,1442.7 1533,1442 C1540.7,1441.4 1548.3,1440.8 1556,1440 C1563.8,1439.2 1571.7,1438.2 1579.5,1437.3 C1619.7,1432.5 1659.8,1425.3 1700,1420 C1755.5,1412.6 1811.1,1413.4 1866.6,1400.3 C1879,1397.4 1891.5,1391.1 1903.9,1385.8 C1920.5,1378.7 1937,1362.5 1953.6,1362 C1974.3,1361.3 1995,1361.7 2015.7,1361 C2043.3,1360.1 2071,1356.5 2098.6,1352.7 C2119.3,1349.8 2140,1345.6 2160.7,1342.3 C2174.5,1340.1 2188.2,1339.8 2202,1336 C2215.8,1332.2 2229.7,1324.4 2243.5,1319.6 C2254.6,1315.7 2265.6,1312.1 2276.7,1309.2 C2295.4,1304.4 2314.1,1302.2 2332.8,1300 C2344.5,1298.6 2356.1,1298.7 2367.8,1296.8 C2388.5,1293.3 2409.3,1286 2430,1278.1 C2436.7,1275.6 2443.3,1272.6 2450,1270 C2465.5,1263.9 2480.9,1256.9 2496.4,1252.4 C2513.1,1247.6 2529.9,1248 2546.6,1242.8 C2559.5,1238.8 2572.4,1231.8 2585.3,1227.3 C2604.6,1220.6 2623.9,1215.2 2643.2,1211.8 C2658.7,1209.1 2674.1,1210.3 2689.6,1207.2 C2699.9,1205.2 2710.2,1201 2720.5,1198.3 C2733.4,1195 2746.3,1191.7 2759.2,1189.8 C2772.1,1187.9 2784.9,1188.8 2797.8,1186.7 C2810.7,1184.6 2823.6,1179.8 2836.5,1176.3 C2849.4,1172.8 2862.2,1168.6 2875.1,1165.5 C2888,1162.4 2900.9,1159.9 2913.8,1157.7 C2937.2,1153.6 2960.6,1151.3 2984,1149" fill="none" stroke="#3fa680" stroke-width="3.7" stroke-dasharray="11.3 12.7"/>
<path d="M465.5,1690 C470.8,1688.5 476.2,1687 481.5,1687 C509.5,1687 537.4,1687 565.4,1687 C566.5,1687 567.6,1678.3 568.7,1671.4 C570.5,1659.9 572.4,1637.2 574.2,1622.8 C576.4,1605.5 578.6,1593.3 580.8,1578.7 C583,1563.9 585.3,1551.2 587.5,1534.5 C589.7,1518 591.9,1495.5 594.1,1479.3 C596.3,1463.1 598.5,1447.2 600.7,1437.4 C602.9,1427.7 605.1,1421.2 607.3,1420.8 C609.5,1420.4 611.8,1420.2 614,1420.2 C702.7,1419.7 791.3,1419.5 880,1419.5 C888.3,1419.5 896.5,1419.7 904.8,1420 C913.1,1420.3 921.4,1422.4 929.7,1423.2 C938,1423.9 946.2,1424.5 954.5,1424.5 C971.1,1424.5 987.6,1424.5 1004.2,1424.5 C1012.5,1424.5 1020.7,1420.8 1029,1419.5 C1037.3,1418.2 1045.7,1416.5 1054,1416.5 C1070.5,1416.5 1087.1,1416.5 1103.6,1416.5 C1111.9,1416.5 1120.1,1414 1128.4,1413.3 C1136.7,1412.5 1145,1412 1153.3,1412 C1182.3,1412 1211.2,1412 1240.2,1412 C1248.5,1412 1256.7,1415.6 1265,1417 C1273.3,1418.5 1281.7,1420.7 1290,1420.7 C1303.3,1420.7 1316.7,1419.8 1330,1418 C1368.3,1412.8 1406.7,1392 1445,1340 C1449.3,1334.2 1453.5,1304.9 1457.8,1274.8 C1462.1,1244.7 1466.3,1190.6 1470.6,1159.2 C1475.4,1123.8 1480.2,1082 1485,1080 C1613.3,1026.7 1741.7,1053.3 1870,1000 C1877.1,997.1 1884.1,986.8 1891.2,960.3 C1894.1,949.3 1897.1,925.6 1900,913.3 C1903,900.6 1906.1,892.7 1909.1,886 C1912.1,879.3 1915.2,874 1918.2,873.3 C1934.9,869.6 1951.6,871.5 1968.3,867.8 C1975.9,866.1 1983.5,861.7 1991.1,858.7 C1998.7,855.7 2006.3,851.9 2013.9,849.6 C2029.1,845 2044.3,844.6 2059.5,842.7 C2082.3,839.8 2105,838.7 2127.8,836.8 C2158.2,834.2 2188.5,832.3 2218.9,829.1 C2246.2,826.2 2273.6,825.7 2300.9,819 C2307,817.5 2313,814.1 2319.1,810.8 C2328.2,805.9 2337.4,796 2346.5,792.6 C2357.1,788.7 2367.8,787.4 2378.4,786.7 C2387.5,786.1 2396.6,786.4 2405.7,785.8 C2411.8,785.4 2417.8,780 2423.9,776.7 C2434.5,770.8 2445.2,761.8 2455.8,756.2 C2461.5,753.2 2467.1,750.4 2472.8,748.4 C2480.4,745.8 2488,744.7 2495.6,743.9 C2526,740.8 2556.3,740.8 2586.7,739.3 C2629.2,737.2 2671.7,737.3 2714.2,733.4 C2723.3,732.6 2732.5,730 2741.6,726.6 C2750.7,723.2 2759.8,717.5 2768.9,712.9 C2784.1,705.3 2799.3,696.7 2814.5,690.1 C2822.1,686.8 2829.6,682.1 2837.2,681 C2852.4,678.9 2867.6,677.8 2882.8,677.8 C2901,677.8 2919.3,677.8 2937.5,677.8 C2953,677.8 2968.5,672.5 2984,667.3" fill="none" stroke="#ecc43c" stroke-width="3.7" stroke-dasharray="11.3 12.7"/>
<path d="M465.5,1690 C470.8,1682.1 476.2,1674.2 481.5,1667 C487.4,1659 493.3,1650.6 499.2,1644.9 C506.5,1637.9 513.9,1635 521.2,1631.7 C528.6,1628.4 535.9,1626.5 543.3,1625 C550.7,1623.5 558,1623.1 565.4,1622.4 C580.1,1620.9 594.8,1620.4 609.5,1619.5 C625.9,1618.5 642.4,1617.8 658.8,1617 C675.3,1616.2 691.9,1615.1 708.4,1614.5 C724.9,1613.9 741.5,1614.1 758,1613.3 C770.5,1612.7 782.9,1607.5 795.4,1607 C811.9,1606.3 828.5,1606.2 845,1606 C856.7,1605.9 868.3,1605.9 880,1605.8 C888.3,1605.7 896.5,1605.4 904.8,1604.6 C917.2,1603.4 929.7,1596.5 942.1,1596 C962.8,1595.1 983.5,1595.1 1004.2,1594.7 C1036.1,1594.1 1068.1,1593 1100,1593 C1115.9,1593 1131.9,1593.3 1147.8,1593.8 C1153.6,1594 1159.4,1596.6 1165.2,1598.1 C1172.5,1600 1179.7,1604 1187,1604 C1190.9,1604 1194.7,1603.2 1198.6,1601.7 C1203.4,1599.8 1208.2,1593.9 1213,1590 C1218.8,1585.3 1224.6,1578.6 1230.4,1575.7 C1235.3,1573.2 1240.1,1572.9 1245,1572 C1249.8,1571.2 1254.6,1571 1259.4,1570.6 C1269.8,1569.7 1280.1,1569.4 1290.5,1569" fill="none" stroke="#9ccd45" stroke-width="5" stroke-linejoin="round" stroke-linecap="round"/>
<path d="M465.5,1690 C470.8,1673.5 476.2,1657.1 481.5,1644.9 C485.9,1634.9 490.3,1627 494.7,1620.6 C499.9,1613.1 505,1608.3 510.2,1605.2 C517.6,1600.7 524.9,1600 532.3,1598.5 C543.3,1596.3 554.4,1596.1 565.4,1595.2 C580.1,1594 594.8,1593.5 609.5,1593 C624.7,1592.5 639.8,1592.5 655,1592 C672.8,1591.4 690.6,1590.2 708.4,1589.7 C741.5,1588.8 774.7,1589.3 807.8,1588.4 C820.2,1588.1 832.6,1587.2 845,1587.2 C856.7,1587.2 868.3,1588 880,1588 C896.6,1588 913.1,1586 929.7,1586 C954.5,1586 979.4,1586 1004.2,1586 C1016.6,1586 1029.1,1588.4 1041.5,1588.4 C1070.5,1588.4 1099.4,1587.2 1128.4,1587.2 C1143.1,1587.2 1157.8,1588.4 1172.5,1588.4 C1187,1588.4 1201.5,1588 1216,1587.2 C1223.2,1586.8 1230.5,1586.4 1237.7,1585 C1242.5,1584.1 1247.4,1582.8 1252.2,1581.4 C1257,1580 1261.9,1578 1266.7,1576.4 C1274.6,1573.8 1282.6,1569 1290.5,1569 C1294.9,1569 1299.2,1569.9 1303.6,1569.9 C1322.7,1569.9 1341.8,1567.8 1360.9,1566.7 C1365.1,1566.5 1369.3,1566.2 1373.5,1566" fill="none" stroke="#6584c8" stroke-width="5" stroke-linejoin="round" stroke-linecap="round"/>
<path d="M465.5,1690 C470.8,1678.6 476.2,1667.1 481.5,1658.1 C487.4,1648.1 493.3,1641.3 499.2,1633.9 C506.5,1624.7 513.9,1615.5 521.2,1609.6 C528.6,1603.7 535.9,1601.6 543.3,1598.5 C550.7,1595.4 558,1593.2 565.4,1590.8 C572.8,1588.4 580.1,1586 587.5,1584.2 C594.8,1582.4 602.2,1581.3 609.5,1579.8 C616.9,1578.3 624.2,1576.6 631.6,1575.4 C640.7,1573.9 649.7,1573.7 658.8,1572.3 C671.2,1570.4 683.6,1564.8 696,1564.8 C708.4,1564.8 720.9,1564.8 733.3,1564.8 C754,1564.8 774.7,1564.4 795.4,1563.6 C811.9,1563 828.5,1557.4 845,1557.4 C856.7,1557.4 868.3,1558.1 880,1558.1 C888.3,1558.1 896.5,1557.9 904.8,1557.4 C913.1,1556.9 921.4,1544.5 929.7,1541.2 C935.5,1538.9 941.2,1537.5 947,1537.5 C953.7,1537.5 960.3,1538.9 967,1540 C975.3,1541.3 983.5,1545 991.8,1545 C1012.5,1545 1033.3,1545 1054,1545 C1062.3,1545 1070.5,1539.3 1078.8,1536.3 C1084.5,1534.2 1090.3,1530.2 1096,1530 C1106.8,1529.5 1117.6,1529.7 1128.4,1529.3 C1138.3,1528.9 1148.1,1528.4 1158,1527.8 C1167.7,1527.2 1177.3,1526.9 1187,1525.7 C1196.7,1524.5 1206.3,1523.4 1216,1520.6 C1223.2,1518.5 1230.5,1516.9 1237.7,1512.6 C1242.5,1509.7 1247.4,1506.9 1252.2,1501.7 C1255.6,1498.1 1258.9,1493.1 1262.3,1488.7 C1265.2,1484.9 1268.1,1481 1271,1477 C1277.5,1468.1 1284,1458.4 1290.5,1448.8" fill="none" stroke="#93d4f1" stroke-width="5" stroke-linejoin="round" stroke-linecap="round"/>
<path d="M465.5,1690 C467.9,1678.2 470.3,1666.3 472.7,1656 C475.6,1643.4 478.6,1633.8 481.5,1622.8 C484.4,1611.8 487.4,1600 490.3,1589.7 C493.3,1579.3 496.2,1570 499.2,1561 C502.9,1549.9 506.5,1539.3 510.2,1530.1 C513.9,1520.9 517.5,1513.3 521.2,1505.8 C528.6,1490.8 535.9,1479 543.3,1468.3 C550.7,1457.6 558,1449.9 565.4,1441.8 C572.8,1433.7 580.1,1426.3 587.5,1419.7 C594.8,1413.1 602.2,1407.2 609.5,1402.1 C616.9,1396.9 624.2,1392.8 631.6,1388.8 C640.7,1383.9 649.7,1379.1 658.8,1376 C667.1,1373.2 675.3,1371.8 683.6,1370.3 C691.9,1368.8 700.1,1368.1 708.4,1367.3 C724.9,1365.7 741.5,1365.4 758,1364.8 C774.6,1364.2 791.2,1364.1 807.8,1363.6 C820.7,1363.2 833.6,1363.1 846.5,1362.3 C862.6,1361.3 878.7,1360.7 894.8,1357.5 C898.5,1356.8 902.3,1355.1 906,1353 C911.9,1349.6 917.9,1342.8 923.8,1338.2 C931.8,1332 939.9,1325.7 947.9,1321.3 C962.4,1313.3 976.9,1312.7 991.4,1309.2 C1007.5,1305.3 1023.6,1303.1 1039.7,1299.5 C1055.8,1295.9 1071.9,1290.3 1088,1287.4 C1100.9,1285.1 1113.8,1284 1126.7,1282.6 C1134.7,1281.7 1142.8,1281.8 1150.8,1280.2 C1162.1,1277.9 1173.4,1274 1184.7,1265.7 C1194.3,1258.6 1204,1246.4 1213.6,1236.7 C1223.3,1227 1232.9,1218.2 1242.6,1207.7 C1252.3,1197.2 1261.9,1187 1271.6,1173.9 C1277.9,1165.4 1284.2,1155.7 1290.5,1146" fill="none" stroke="#8c2150" stroke-width="5" stroke-linejoin="round" stroke-linecap="round"/>
<line x1="1290.5" y1="671" x2="1290.5" y2="1689" stroke="#1e1e1e" stroke-width="3.6" stroke-dasharray="6.4 7.89" stroke-dashoffset="2.79"/>
<text x="1303" y="694.8" font-size="35" font-weight="bold" fill="#2a2a2e" textLength="131" lengthAdjust="spacingAndGlyphs">Day 120</text>
<circle cx="1290.5" cy="1146" r="13" fill="#ffffff"/><circle cx="1290.5" cy="1146" r="8.8" fill="#27272b"/>
<circle cx="1290.5" cy="1448.8" r="13" fill="#ffffff"/><circle cx="1290.5" cy="1448.8" r="8.8" fill="#27272b"/>
<circle cx="1290.6" cy="1569" r="13" fill="#ffffff"/><circle cx="1290.6" cy="1569" r="8.8" fill="#27272b"/>
<circle cx="1373.5" cy="1566" r="13" fill="#ffffff"/><circle cx="1373.5" cy="1566" r="8.8" fill="#27272b"/>
<rect x="754.4" y="986.6" width="521.8" height="147.3" fill="#ffffff" stroke="#262628" stroke-width="3.6"/>
<rect x="1303.9" y="1289.3" width="562.5" height="146.1" fill="#ffffff" stroke="#262628" stroke-width="3.6"/>
<rect x="1396.1" y="1524" width="683.8" height="144.4" fill="#ffffff" stroke="#262628" stroke-width="3.6"/>
<path d="M1348.6,965.6 H2036.4 V1153.6 H1348.6 V1082.1 L1325.6,1059.2 L1348.6,1036.2 Z" fill="#ffffff" stroke="#262628" stroke-width="3.6" stroke-linejoin="miter"/>
<clipPath id="boxclip"><rect x="754.4" y="986.6" width="521.8" height="147.3"/><rect x="1303.9" y="1289.3" width="562.5" height="146.1"/><rect x="1396.1" y="1524" width="683.8" height="144.4"/><path d="M1348.6,965.6 H2036.4 V1153.6 H1348.6 V1082.1 L1325.6,1059.2 L1348.6,1036.2 Z"/></clipPath>
<g clip-path="url(#boxclip)"><g opacity="0.105"><g fill="#000" stroke="#000" stroke-width="7.5" stroke-linejoin="miter"><text transform="translate(983.2,1047.8) scale(0.8921,1)" font-size="212.9">P</text><text transform="translate(1116.2,1047.8) scale(0.8305,1)" font-size="212.9">R</text><text transform="translate(1256.9,1047.8) scale(0.7755,1)" font-size="212.9">E</text><text transform="translate(1368.6,1047.8) scale(0.9154,1)" font-size="212.9">V</text><text transform="translate(1514.8,1047.8) scale(0.8963,1)" font-size="212.9">I</text><text transform="translate(1576.7,1047.8) scale(0.6923,1)" font-size="212.9">E</text><text transform="translate(1688.9,1047.8) scale(0.9357,1)" font-size="212.9">W</text><text transform="translate(1931.2,1047.8) scale(0.9460,1)" font-size="212.9">O</text><text transform="translate(2090.5,1047.8) scale(0.9878,1)" font-size="212.9">N</text><text transform="translate(2244.3,1047.8) scale(0.9426,1)" font-size="212.9">L</text><text transform="translate(2337.3,1047.8) scale(0.9535,1)" font-size="212.9">Y</text></g></g><g opacity="0.065"><g transform="translate(452.3,960.6) scale(2.9516,2.9665)" fill="#000" stroke="#000"><g fill="none" stroke-width="6.8" stroke-linecap="butt" stroke-linejoin="miter" clip-path="url(#lclip)"><path d="M202.2,56.6 H178.9 V85.6 H202.2 M178.9,70.4 H199.6"/><path d="M212.4,53.2 V85.6 H234.7"/><path d="M268.2,56.6 H244.4 V85.6 H268.2 M244.4,70.4 H265.6"/><path d="M302.7,61.4 A14.5,14.5 0 1 0 302.7,80.8"/><path d="M311.2,56.6 H339.5 M325.1,56.6 V89"/><path d="M349.7,89 V56.6 H361 A7.9,7.9 0 0 1 361,72.4 H349.7 M360,72.4 L374.5,92"/><path d="M386.4,53.2 V89"/><path d="M425.4,61.4 A14.5,14.5 0 1 0 425.4,80.8"/><path d="M493.5,61.4 A14.5,14.5 0 1 0 493.5,80.8"/><path d="M547.4,89 V56.6 H555.5 A8.75,8.75 0 0 1 555.5,74.1 H547.4"/><path d="M581.2,53.2 V89"/><path d="M591.1,56.6 H620.5 M605.8,56.6 V89"/><path d="M665.8,53.2 V85.6 H688.1"/></g><path stroke="none" d="M447,53.5 L439.7,73.5 L446,72.3 L446,88.5 L452.8,69.3 L447,70.3 Z"/><path stroke="none" d="M501,89 L515.4,53.2 L522.4,53.2 L537.2,89 L529.9,89 L518.9,62 L508.2,89 Z"/><path stroke="none" d="M620,89 L634.3,53.2 L641.3,53.2 L656.1,89 L648.8,89 L637.8,62 L627.2,89 Z"/></g></g><g opacity="0.075"><g transform="translate(941.2,1024.8) scale(1.8221,1.7709)" fill="#000" stroke="#000"><g fill="none" stroke-width="6.8" stroke-linecap="butt" stroke-linejoin="miter" clip-path="url(#lclip)"><path d="M202.2,56.6 H178.9 V85.6 H202.2 M178.9,70.4 H199.6"/><path d="M212.4,53.2 V85.6 H234.7"/><path d="M268.2,56.6 H244.4 V85.6 H268.2 M244.4,70.4 H265.6"/><path d="M302.7,61.4 A14.5,14.5 0 1 0 302.7,80.8"/><path d="M311.2,56.6 H339.5 M325.1,56.6 V89"/><path d="M349.7,89 V56.6 H361 A7.9,7.9 0 0 1 361,72.4 H349.7 M360,72.4 L374.5,92"/><path d="M386.4,53.2 V89"/><path d="M425.4,61.4 A14.5,14.5 0 1 0 425.4,80.8"/><path d="M493.5,61.4 A14.5,14.5 0 1 0 493.5,80.8"/><path d="M547.4,89 V56.6 H555.5 A8.75,8.75 0 0 1 555.5,74.1 H547.4"/><path d="M581.2,53.2 V89"/><path d="M591.1,56.6 H620.5 M605.8,56.6 V89"/><path d="M665.8,53.2 V85.6 H688.1"/></g><path stroke="none" d="M447,53.5 L439.7,73.5 L446,72.3 L446,88.5 L452.8,69.3 L447,70.3 Z"/><path stroke="none" d="M501,89 L515.4,53.2 L522.4,53.2 L537.2,89 L529.9,89 L518.9,62 L508.2,89 Z"/><path stroke="none" d="M620,89 L634.3,53.2 L641.3,53.2 L656.1,89 L648.8,89 L637.8,62 L627.2,89 Z"/></g></g></g>
<text x="790" y="1097.2" font-size="100" fill="#27272b" stroke="#27272b" stroke-width="2.6" textLength="150" lengthAdjust="spacingAndGlyphs">$1.7B</text>
<text x="1339" y="1400.4" font-size="100" fill="#27272b" stroke="#27272b" stroke-width="2.6" textLength="200" lengthAdjust="spacingAndGlyphs">$680M</text>
<text x="1431" y="1634.3" font-size="100" fill="#27272b" stroke="#27272b" stroke-width="2.6" textLength="194" lengthAdjust="spacingAndGlyphs">$370M</text>
<text x="959" y="1054.3" font-size="34" fill="#27272b" textLength="281" lengthAdjust="spacingAndGlyphs"><tspan font-weight="bold" fill="#9b2553">ETHA</tspan> cumulative</text>
<text x="959" y="1093.9" font-size="34" fill="#27272b" textLength="161" lengthAdjust="spacingAndGlyphs">net inflow</text>
<text x="1555" y="1357.4" font-size="34" fill="#27272b" textLength="276" lengthAdjust="spacingAndGlyphs"><tspan font-weight="bold" fill="#6ab4d8">FETH</tspan> cumulative</text>
<text x="1555" y="1397" font-size="34" fill="#27272b" textLength="162" lengthAdjust="spacingAndGlyphs">net inflow</text>
<text x="1645.5" y="1589.7" font-size="34" fill="#27272b" textLength="399" lengthAdjust="spacingAndGlyphs"><tspan font-weight="bold" fill="#6a88c9">ETHW</tspan> &amp; <tspan font-weight="bold" fill="#9ccd45">ETH</tspan> cumulative</text>
<text x="1645.5" y="1630.4" font-size="34" fill="#27272b" textLength="162" lengthAdjust="spacingAndGlyphs">net inflow</text>
<text x="1382" y="1032.7" font-size="34" fill="#27272b" textLength="612" lengthAdjust="spacingAndGlyphs"><tspan font-weight="bold">ETHA attracted more inflows in its first</tspan></text>
<text x="1382" y="1072.1" font-size="34" fill="#27272b" textLength="589" lengthAdjust="spacingAndGlyphs"><tspan font-weight="bold">120</tspan> days than many top performing</text>
<text x="1382" y="1110.9" font-size="34" fill="#27272b" textLength="424" lengthAdjust="spacingAndGlyphs">ETFs did in their first year</text>
<circle cx="3061.9" cy="689.3" r="21.4" fill="#fde8a8"/>
<text transform="translate(3101.5,700.3) scale(0.95,1)" font-size="39.5" fill="#2c2c2e">JGLO</text>
<circle cx="3061.9" cy="757.8" r="21.4" fill="#fbdcd4"/>
<text transform="translate(3101.5,768.8) scale(0.95,1)" font-size="39.5" fill="#2c2c2e">DFIC</text>
<circle cx="3061.9" cy="826.2" r="21.4" fill="#fbcabb"/>
<text transform="translate(3101.5,837.2) scale(0.95,1)" font-size="39.5" fill="#2c2c2e">JEPQ</text>
<circle cx="3061.9" cy="894.6" r="21.4" fill="#c3e7d8"/>
<text transform="translate(3101.5,905.6) scale(0.95,1)" font-size="39.5" fill="#2c2c2e">DUHP</text>
<circle cx="3061.9" cy="963.1" r="21.4" fill="#8c2150"/>
<text transform="translate(3101.5,974.1) scale(0.95,1)" font-size="39.5" fill="#2c2c2e">ETHA</text>
<circle cx="3061.9" cy="1031.5" r="21.4" fill="#fbc9ba"/>
<text transform="translate(3101.5,1042.5) scale(0.95,1)" font-size="39.5" fill="#2c2c2e">CGDV</text>
<circle cx="3061.9" cy="1100" r="21.4" fill="#fbdcd5"/>
<text transform="translate(3101.5,1111) scale(0.95,1)" font-size="39.5" fill="#2c2c2e">CGGR</text>
<circle cx="3061.9" cy="1168.5" r="21.4" fill="#fcdbe7"/>
<text transform="translate(3101.5,1179.5) scale(0.95,1)" font-size="39.5" fill="#2c2c2e">TBIL</text>
<circle cx="3061.9" cy="1236.9" r="21.4" fill="#99d7f5"/>
<text transform="translate(3101.5,1247.9) scale(0.95,1)" font-size="39.5" fill="#2c2c2e">FETH</text>
<circle cx="3061.9" cy="1305.3" r="21.4" fill="#6887cd"/>
<text transform="translate(3101.5,1316.3) scale(0.95,1)" font-size="39.5" fill="#2c2c2e">ETHW</text>
<circle cx="3061.9" cy="1373.8" r="21.4" fill="#a5d24b"/>
<text transform="translate(3101.5,1384.8) scale(0.95,1)" font-size="39.5" fill="#2c2c2e">ETH</text>
</svg></body></html>
